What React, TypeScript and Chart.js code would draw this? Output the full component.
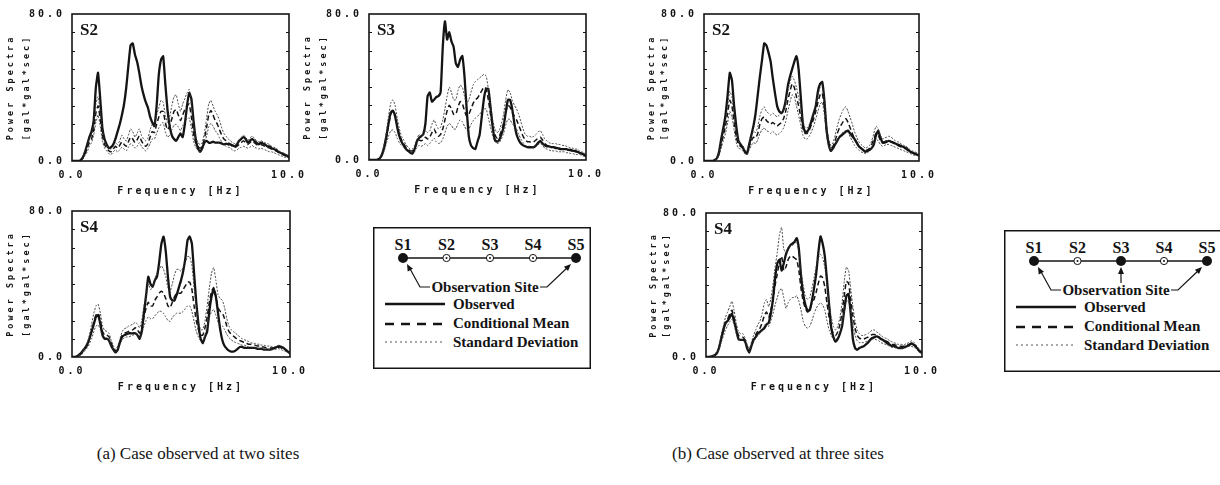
import React, { useEffect, useRef } from 'react';
import { Chart, registerables } from 'chart.js';

Chart.register(...registerables);

// Frequency grid [Hz]
const FREQ = [
  0, 0.1, 0.2, 0.3, 0.4, 0.5, 0.6, 0.7, 0.8, 0.9,
  1, 1.1, 1.2, 1.3, 1.4, 1.5, 1.6, 1.7, 1.8, 1.9,
  2, 2.1, 2.2, 2.3, 2.4, 2.5, 2.6, 2.7, 2.8, 2.9,
  3, 3.1, 3.2, 3.3, 3.4, 3.5, 3.6, 3.7, 3.8, 3.9,
  4, 4.1, 4.2, 4.3, 4.4, 4.5, 4.6, 4.7, 4.8, 4.9,
  5, 5.1, 5.2, 5.3, 5.4, 5.5, 5.6, 5.7, 5.8, 5.9,
  6, 6.1, 6.2, 6.3, 6.4, 6.5, 6.6, 6.7, 6.8, 6.9,
  7, 7.1, 7.2, 7.3, 7.4, 7.5, 7.6, 7.7, 7.8, 7.9,
  8, 8.1, 8.2, 8.3, 8.4, 8.5, 8.6, 8.7, 8.8, 8.9,
  9, 9.1, 9.2, 9.3, 9.4, 9.5, 9.6, 9.7, 9.8, 9.9, 10,
];

const X_TICKS = [0, 10];
const Y_TICKS = [0, 80];

// (a) two observed sites — S2
const A2_OBS = [
  0, 0, 0, 0, 0.5, 2, 5, 9, 13, 16,
  22, 40, 48, 34, 18, 12, 9, 7, 7.5, 9,
  12, 16, 20, 25, 31, 40, 52, 63, 64, 58,
  54, 48, 41, 36, 32, 29, 24, 21, 19, 30,
  47, 55, 57, 42, 28, 19, 14, 12, 11, 13,
  15, 13, 20, 30, 37, 34, 22, 12, 7, 5,
  7, 10, 11, 10, 10, 10.5, 10, 10, 10, 9.5,
  9, 9.5, 9, 9, 8.5, 8, 9, 11, 12, 13,
  12, 10, 11, 12, 11, 10, 9, 10, 9.5, 9,
  8, 8, 7, 6.5, 6, 5, 4.5, 4, 3.5, 3, 2,
];
const A2_MEAN = [
  0, 0, 0, 0, 0.5, 1.5, 4, 7, 10, 12,
  17, 26, 30, 23, 14, 9, 7, 5.5, 5, 6.5,
  8, 7, 8.5, 10.5, 9, 8, 10.5, 13, 12, 10,
  11.5, 13.5, 11, 9, 8, 9.5, 13, 16, 15.5, 20,
  24, 27, 27, 21, 17, 19, 23, 27, 28, 25,
  22, 25, 28, 30, 31, 24, 15, 10, 8, 7,
  8, 12, 18, 25, 27.5, 25, 22, 20, 17, 14,
  12, 11, 10, 9, 8, 7.5, 8, 9, 10, 11,
  10, 9, 10, 11, 10, 9, 8.5, 9, 8.5, 8,
  7.5, 7, 6.5, 6, 5.5, 5, 4, 3.5, 3, 2.5, 2,
];
const A2_UPPER = [
  0, 0, 0, 0, 0.7, 2, 5, 9, 12, 14,
  20, 31, 35, 27, 17, 11, 8.5, 7, 6.5, 8,
  10, 9, 11, 14, 12, 11, 14, 17.5, 16, 13,
  15, 17.5, 14, 12, 11, 12.5, 17, 20, 19.5, 25,
  29, 33, 32, 25, 21, 24, 30, 35, 36, 31,
  27, 31, 34, 37, 39, 31, 19, 13, 10, 9,
  10, 15, 23, 31, 33, 30, 27, 25, 22, 18,
  15, 13.5, 12, 11, 10, 9.5, 10, 11, 13, 14,
  13, 11, 12.5, 13.5, 12.5, 11, 10.5, 11, 10.5, 10,
  9.5, 9, 8, 7.5, 7, 6, 5, 4.5, 4, 3, 2.5,
];
const A2_LOWER = [
  0, 0, 0, 0, 0.3, 1, 3, 5, 8, 10,
  14, 21, 25, 19, 11, 7, 5.5, 4, 3.5, 5,
  6, 5, 6, 7.5, 6.5, 5.5, 7.5, 9.5, 8.5, 7,
  8, 10, 8, 6.5, 5.5, 7, 9.5, 12, 12, 15,
  18, 20, 21, 16, 13, 14, 17, 19.5, 20, 18.5,
  16.5, 19, 21.5, 23, 23.5, 18, 11, 7.5, 6, 5,
  6, 9, 13.5, 18.5, 20.5, 19, 16.5, 15, 12.5, 10.5,
  9, 8, 7.5, 7, 6, 5.5, 6, 7, 7.5, 8,
  7.5, 7, 7.5, 8.5, 7.5, 7, 6.5, 7, 6.5, 6,
  5.5, 5, 5, 4.5, 4, 3.5, 3, 2.5, 2, 2, 1.5,
];

// (a) two observed sites — S3
const A3_OBS = [
  0, 0, 0, 0, 0.3, 1, 3, 7, 13, 20,
  26, 27, 24, 18, 13, 10, 8, 6, 5, 4,
  3.5, 6, 10, 12, 13, 14, 20, 35, 37, 32,
  33, 34.5, 35, 37, 62, 76, 66, 70, 65, 62,
  53, 51, 55, 57, 46, 28, 13, 8, 6.5, 6,
  10, 14, 24, 34, 39, 39, 29, 18, 11, 10,
  11, 14, 18, 26, 33, 33, 28, 20, 14, 11,
  9, 8, 7.5, 7, 7, 7, 7, 8, 9.5, 10.5,
  9, 8, 7.5, 7.5, 7, 7, 6.5, 6.5, 6, 6,
  6, 6, 5.5, 5.5, 5, 5, 4.5, 4, 3.5, 3, 2,
];
const A3_MEAN = [
  0, 0, 0, 0, 0.3, 1, 3, 7, 12, 19,
  25, 27, 25, 19, 14, 11, 9, 7, 6, 5,
  5, 6, 9, 11, 10.5, 11, 12.5, 11.5, 12.5, 15,
  17, 14.5, 13, 14, 17, 22, 27, 30, 28, 25,
  25, 29, 32, 31, 27, 24, 25, 28, 31, 33,
  34, 36, 38, 40, 39, 33, 25, 18, 14, 12,
  13, 16, 20, 26, 30, 29, 26, 24, 22, 19,
  16, 13, 11, 10, 10, 9.5, 10, 11, 12, 12.5,
  11, 9, 8, 7.5, 7, 7, 7, 6.5, 6.5, 6,
  6, 5.5, 5.5, 5, 5, 4.5, 4.5, 4, 3.5, 3, 2.5,
];
const A3_UPPER = [
  0, 0, 0, 0, 0.4, 1.5, 4, 9, 15, 24,
  31, 33, 30, 23, 17, 13, 11, 8.5, 7, 6,
  6, 7.5, 11, 14, 13, 14, 16, 15, 16, 19.5,
  22, 19, 17, 18, 22, 28, 35, 40, 37, 33,
  33, 38, 41, 40, 35, 31, 33, 37, 41, 43,
  44, 45, 46, 47, 46, 39, 30, 22, 17, 15,
  16, 20, 25, 33, 38.5, 37, 33, 30, 28, 25,
  21, 17, 14, 13, 13, 12.5, 13, 14, 15.5, 16,
  14, 11.5, 10.5, 9.5, 9, 9, 9, 8.5, 8.5, 8,
  8, 7.5, 7, 6.5, 6.5, 6, 6, 5, 4.5, 4, 3,
];
const A3_LOWER = [
  0, 0, 0, 0, 0.2, 0.8, 2, 5, 9, 13,
  16, 16.5, 15, 12, 9.5, 8, 7, 5.5, 4.5, 4,
  4, 4.5, 6.5, 8, 7.5, 8, 9, 8, 9, 10.5,
  12, 10, 9, 9.5, 11.5, 15, 18.5, 20, 19, 17,
  17, 20, 22, 21, 18.5, 16.5, 17, 19.5, 21.5, 23,
  24, 25, 27, 28, 28, 23, 18, 13, 10, 9,
  9.5, 11.5, 14.5, 19, 22.5, 22, 20, 18.5, 17, 14,
  11.5, 9.5, 8, 7.5, 7.5, 7, 7.5, 8, 8.5, 9,
  8, 6.5, 6, 5.5, 5, 5, 5, 4.5, 4.5, 4.5,
  4.5, 4, 4, 3.5, 3.5, 3, 3, 3, 2.5, 2, 1.5,
];

// (a) two observed sites — S4
const A4_OBS = [
  0, 0, 0.3, 1, 2, 3.5, 5, 7, 10, 14,
  18, 22, 23, 18, 12, 10, 10, 9, 6, 4,
  2.5, 4, 8, 11, 12, 12.5, 13, 13, 13, 13,
  12, 10, 14, 24, 34, 44, 40, 38.5, 42, 44,
  52, 62, 66, 58, 44, 33, 31, 31, 34, 38,
  42, 47, 54, 64, 66, 62, 46, 30, 18, 10,
  7.5, 11, 14, 25, 33, 37, 33, 24, 15, 9,
  6, 4.5, 3.5, 3, 3, 3.5, 4.5, 5.5, 5.5, 5,
  5, 5, 5, 5, 5, 4.5, 4.5, 4.5, 4, 4,
  4, 4, 4.5, 5, 5.5, 6, 5.5, 5, 4, 3, 2,
];
const A4_MEAN = [
  0, 0, 0.2, 0.8, 1.5, 3, 4.5, 6.5, 10, 14,
  19, 23, 24, 20, 14, 12, 12, 11, 7.5, 5,
  3, 5, 8.5, 12, 13, 13.5, 14, 14.5, 15, 16,
  15, 13, 16, 22, 27, 30, 28, 28, 31, 33,
  35, 36, 35, 32, 28, 27, 30, 33, 35, 35,
  35, 37, 39, 41, 41, 37, 28, 20, 15, 12,
  12, 16, 22, 30, 36, 38, 33, 27, 25, 24,
  21, 17, 14, 12.5, 11.5, 10.5, 9.5, 9, 8.5, 8,
  7.5, 7, 7, 6.5, 6.5, 6, 6, 5.5, 5.5, 5,
  5, 5, 5, 5, 5, 5.5, 5, 4.5, 4, 3, 2,
];
const A4_UPPER = [
  0, 0, 0.3, 1, 2, 3.5, 5.5, 8, 12, 18,
  24, 28, 29, 24, 17, 14.5, 14, 13, 9, 6,
  4, 6, 10, 14, 15.5, 16, 17, 17.5, 18, 19,
  18, 16, 20, 28, 34, 40, 37, 38, 43, 46,
  48, 50, 48, 44, 38, 36, 40, 45, 48, 48,
  47, 49, 52, 55, 55, 50, 38, 27, 19, 15,
  15, 20, 28, 38, 46, 49, 42, 34, 32, 31,
  27, 21, 17, 15, 14, 13, 12, 11, 10, 9.5,
  9, 8.5, 8, 7.5, 7.5, 7, 7, 6.5, 6.5, 6,
  6, 6, 5.5, 5.5, 6, 6.5, 6, 5.5, 4.5, 3.5, 2.5,
];
const A4_LOWER = [
  0, 0, 0.1, 0.5, 1, 2, 3.5, 5, 7.5, 10,
  14, 17, 17.5, 15, 11, 9.5, 9.5, 9, 6, 4,
  2.5, 4, 7, 9.5, 10.5, 11, 11, 11.5, 12, 12.5,
  12, 10, 12.5, 17, 20, 22, 21, 21, 22.5, 24,
  25, 25, 24, 22, 20, 19.5, 21.5, 23, 24, 24,
  24, 25, 26.5, 28, 28, 25, 19.5, 14, 11, 9,
  9, 12, 16.5, 21.5, 25, 26, 23, 19, 18, 17,
  15, 12.5, 10.5, 9.5, 8.5, 8, 7.5, 7, 6.5, 6.5,
  6, 5.5, 5.5, 5, 5, 5, 4.5, 4.5, 4.5, 4,
  4, 4, 4, 4, 4.5, 4.5, 4, 3.5, 3, 2.5, 1.5,
];

// (b) three observed sites — S2
const B2_OBS = [
  0, 0, 0, 0, 0, 0.5, 1.5, 5, 12, 18,
  25, 36, 48, 44, 30, 19, 11, 9, 7.5, 5,
  4, 9, 14, 19, 26, 36, 46, 55, 64, 63,
  59, 54, 45, 37, 30, 27, 26, 28, 33, 41,
  46, 50, 54, 57, 50, 35, 20, 16, 16, 18,
  22, 26, 30, 38, 42, 43, 33, 17, 9, 5.5,
  7, 9, 11, 13, 14, 15, 16, 16.5, 15, 13.5,
  12, 10, 8, 7, 6, 5, 5.5, 6, 7, 9,
  14, 16.5, 13, 10, 10, 10.5, 11, 10.5, 10, 9.5,
  9, 8.5, 8, 7.5, 7, 6, 5, 4.5, 4, 3.5, 3,
];
const B2_MEAN = [
  0, 0, 0, 0, 0, 0.4, 1.2, 4, 9, 14,
  19, 26, 33, 30, 21, 13, 9, 8, 7, 5,
  4.5, 8, 11, 13, 12.5, 15, 20, 23, 24, 22,
  21, 20, 21, 20, 19, 20, 21, 23, 27, 33,
  38, 42, 40, 35, 30, 24, 18, 15, 15, 17,
  20, 23, 27, 32, 36, 37, 29, 17, 10, 7,
  8, 11, 15, 18, 20, 22, 23, 21, 18, 15,
  12, 10, 8, 7, 6, 5.5, 6, 7, 9, 12,
  15, 14, 11.5, 10, 10.5, 11, 11, 10.5, 10, 9,
  8.5, 8, 7.5, 7, 6.5, 5.5, 5, 4.5, 4, 3.5, 3,
];
const B2_UPPER = [
  0, 0, 0, 0, 0, 0.5, 1.5, 5, 10, 16,
  22, 30, 38, 35, 25, 16, 11, 9.5, 8.5, 6,
  5.5, 10, 13.5, 16, 15.5, 18.5, 24.5, 28, 29.5, 27,
  26, 25, 26, 25, 24, 25, 26, 28, 32, 38,
  43, 46, 44, 40, 35, 29, 22, 18, 18, 20,
  23, 27, 31, 36, 40, 41, 33, 20, 12, 8.5,
  10, 14, 19, 23, 26, 28.5, 29.5, 27, 23.5, 20,
  16, 13, 10.5, 9, 8, 7, 7.5, 8.5, 11, 15,
  19, 17.5, 14, 12, 12.5, 13, 13.5, 13, 12, 11,
  10.5, 10, 9, 8.5, 8, 7, 6, 5.5, 5, 4.5, 3.5,
];
const B2_LOWER = [
  0, 0, 0, 0, 0, 0.3, 0.9, 3, 7, 11,
  15, 21, 27, 24, 17, 10, 7, 6.5, 5.5, 4,
  3.5, 6, 8.5, 10, 9.5, 11.5, 15, 17, 18, 16.5,
  16, 15, 16, 15, 14, 15, 16, 18, 21.5, 27,
  32, 36, 35, 30, 25, 19.5, 14, 12, 12, 13.5,
  16, 19, 23, 27, 31, 32, 25, 14, 8, 5.5,
  6, 8.5, 11.5, 13.5, 15, 16, 16.5, 15.5, 13, 11,
  8.5, 7, 6, 5, 4.5, 4, 4.5, 5.5, 7, 9.5,
  12, 11, 9, 8, 8.5, 9, 9, 8.5, 8, 7.5,
  7, 6.5, 6, 5.5, 5, 4.5, 4, 3.5, 3, 3, 2.5,
];

// (b) three observed sites — S4
const B4_OBS = [
  0, 0, 0.2, 0.5, 1, 2, 5, 10, 15, 19,
  20, 22, 24, 20, 15, 10, 9.5, 9.5, 9, 5,
  2.5, 6, 9.5, 11, 13, 14, 15, 16, 18, 19,
  24, 32, 44, 52, 54, 48, 52, 57, 60, 62,
  63, 64, 66, 60, 45, 35, 29, 26, 26, 31,
  38, 46, 58, 67, 63, 56, 43, 29, 16, 11,
  8.5, 10, 13, 17, 26, 34, 35, 24, 10, 5,
  4, 5, 5.5, 6, 7, 8, 9.5, 10.5, 11, 11.5,
  11, 10, 9.5, 8.5, 7.5, 7, 6, 6, 5.5, 5,
  5, 5, 5.5, 6, 6.5, 7.5, 7, 6, 4.5, 3, 2.5,
];
const B4_MEAN = [
  0, 0, 0.1, 0.4, 1, 2.5, 5, 10, 14, 18,
  21, 24, 26, 22, 16, 12, 11, 11, 9.5, 6,
  3.5, 7, 10, 12.5, 14.5, 16, 19, 23, 25, 22,
  26, 32, 40, 46, 53, 56, 48, 50, 54, 56,
  56, 55, 54, 48, 38, 31, 27, 25, 26, 30,
  32, 36, 41, 45, 44, 39, 30, 22, 16, 13,
  12, 14, 18, 25, 34, 42, 41, 32, 23, 16,
  12, 10.5, 10, 10, 10.5, 11, 12, 12.5, 12.5, 12,
  11, 10, 9.5, 9, 8.5, 7.5, 7, 7, 6.5, 6,
  6, 6, 6, 6.5, 7, 7.5, 7, 6, 4.5, 3.5, 2.5,
];
const B4_UPPER = [
  0, 0, 0.2, 0.5, 1.2, 3, 6, 12, 17, 22,
  25, 28, 31, 26, 19, 14, 13, 13, 11, 7,
  4, 8, 12, 15, 18, 20, 24, 30, 32, 28,
  32, 40, 50, 58, 68, 72, 60, 58, 61, 62,
  62, 63, 64, 58, 48, 40, 34, 32, 33, 38,
  44, 50, 55, 57, 55, 50, 40, 30, 22, 17,
  15, 17, 22, 30, 42, 50, 48, 38, 28, 20,
  15, 13, 12, 12, 12.5, 13, 14, 15, 15, 14,
  13, 12, 11, 10.5, 10, 9, 8.5, 8, 7.5, 7,
  7, 7, 7, 7.5, 8, 9, 8.5, 7, 5.5, 4, 3,
];
const B4_LOWER = [
  0, 0, 0.1, 0.3, 0.8, 2, 4, 8, 11.5, 15,
  17.5, 19.5, 21, 18, 13, 10, 9.5, 9.5, 8, 5,
  3, 6, 8.5, 10.5, 12, 13, 15, 17.5, 19, 17,
  20, 24, 29, 33, 37, 38, 33, 27, 30, 32,
  33, 33, 34, 31, 26, 20, 17, 16, 17, 20,
  24, 27, 29, 30, 29, 26, 20, 15, 12, 10,
  9.5, 11, 14, 19, 25, 31, 31, 25, 18, 12,
  9, 8, 8, 8, 8.5, 9, 9.5, 10, 10, 9.5,
  9, 8, 7.5, 7, 6.5, 6, 5.5, 5.5, 5, 5,
  5, 5, 5, 5.5, 6, 6, 5.5, 5, 3.5, 2.5, 2,
];

const SERIES_NAMES = ['Observed', 'Conditional Mean', 'Standard Deviation', 'Standard Deviation'];
const LEGEND_ROWS = ['Observed', 'Conditional Mean', 'Standard Deviation'];
const SITE_NAMES = ['S1', 'S2', 'S3', 'S4', 'S5'];

const INK = '#141414';
const TICK_FONT = { family: '"DejaVu Sans Mono", monospace', size: 10, weight: 'bold' as const };

type PanelDef = {
  label: string;
  obs: number[];
  mean: number[];
  upper: number[];
  lower: number[];
  left: number;
  top: number;
  w: number;
  h: number;
  yTitlePad: number;
  yTitleLine: number;
};

const PANELS: PanelDef[] = [
  { label: 'S2', obs: A2_OBS, mean: A2_MEAN, upper: A2_UPPER, lower: A2_LOWER, left: 72, top: 14, w: 217, h: 147, yTitlePad: 3, yTitleLine: 16 },
  { label: 'S3', obs: A3_OBS, mean: A3_MEAN, upper: A3_UPPER, lower: A3_LOWER, left: 369, top: 14, w: 217, h: 146, yTitlePad: 3, yTitleLine: 16 },
  { label: 'S4', obs: A4_OBS, mean: A4_MEAN, upper: A4_UPPER, lower: A4_LOWER, left: 72, top: 211, w: 218, h: 146, yTitlePad: 3, yTitleLine: 16 },
  { label: 'S2', obs: B2_OBS, mean: B2_MEAN, upper: B2_UPPER, lower: B2_LOWER, left: 704, top: 14, w: 215, h: 147, yTitlePad: 13, yTitleLine: 13 },
  { label: 'S4', obs: B4_OBS, mean: B4_MEAN, upper: B4_UPPER, lower: B4_LOWER, left: 706, top: 213, w: 216, h: 144, yTitlePad: 13, yTitleLine: 13 },
];

const AXIS_L = 72;
const PAD_T = 14;
const PAD_R = 26;
const AXIS_B = 42;

const framePlugin = {
  id: 'frame',
  beforeDraw(chart: any) {
    (chart.ctx as any).letterSpacing = '3px';
  },
  afterDraw(chart: any, _args: any, opts: any) {
    const { ctx, chartArea: a, scales } = chart;
    const y = scales.y;
    ctx.save();
    (ctx as any).letterSpacing = '0px';
    ctx.strokeStyle = INK;
    ctx.lineWidth = 1.6;
    ctx.strokeRect(a.left, a.top, a.right - a.left, a.bottom - a.top);
    ctx.lineWidth = 1;
    for (let v = 10; v < 80; v += 10) {
      const py = Math.round(y.getPixelForValue(v)) + 0.5;
      ctx.beginPath();
      ctx.moveTo(a.left, py);
      ctx.lineTo(a.left + 3, py);
      ctx.moveTo(a.right, py);
      ctx.lineTo(a.right - 3, py);
      ctx.stroke();
    }
    ctx.font = 'bold 17px "Liberation Serif", serif';
    ctx.fillStyle = INK;
    ctx.textAlign = 'left';
    ctx.textBaseline = 'alphabetic';
    ctx.fillText(opts.label, a.left + 8, a.top + 21);
    ctx.restore();
  },
};

function Panel({ def }: { def: PanelDef }) {
  const ref = useRef<HTMLCanvasElement | null>(null);
  const cw = def.w + AXIS_L + PAD_R;
  const ch = def.h + PAD_T + AXIS_B;

  useEffect(() => {
    if (!ref.current) return;
    const mk = (arr: number[]) => FREQ.map((f, i) => ({ x: f, y: arr[i] }));
    const chart = new Chart(ref.current, {
      type: 'line',
      data: {
        datasets: [
          { label: SERIES_NAMES[2], data: mk(def.upper), borderColor: '#333', borderWidth: 0.9, borderDash: [2, 1.5], pointRadius: 0, tension: 0.15, fill: false },
          { label: SERIES_NAMES[3], data: mk(def.lower), borderColor: '#333', borderWidth: 0.9, borderDash: [2, 1.5], pointRadius: 0, tension: 0.15, fill: false },
          { label: SERIES_NAMES[1], data: mk(def.mean), borderColor: INK, borderWidth: 1.5, borderDash: [5, 3], pointRadius: 0, tension: 0.15, fill: false },
          { label: SERIES_NAMES[0], data: mk(def.obs), borderColor: INK, borderWidth: 2.3, pointRadius: 0, tension: 0.15, fill: false },
        ],
      },
      options: {
        responsive: false,
        animation: false,
        events: [],
        layout: { padding: { top: PAD_T, right: PAD_R, left: 0, bottom: 0 } },
        plugins: {
          legend: { display: false },
          tooltip: { enabled: false },
          frame: { label: def.label },
        } as any,
        scales: {
          x: {
            type: 'linear',
            min: X_TICKS[0],
            max: X_TICKS[1],
            grid: { display: false, drawTicks: false },
            border: { display: false },
            afterBuildTicks: (s: any) => { s.ticks = X_TICKS.map((v) => ({ value: v })); },
            ticks: { font: TICK_FONT, color: INK, padding: 8, maxRotation: 0, autoSkip: false, callback: (v: any) => Number(v).toFixed(1) },
            title: {
              display: true,
              text: 'Frequency [Hz]',
              color: INK,
              font: { family: '"DejaVu Sans Mono", monospace', size: 10, weight: 'bold', lineHeight: '12px' } as any,
              padding: { top: 0, bottom: 6 },
            },
            afterFit: (s: any) => { s.height = AXIS_B; },
          },
          y: {
            type: 'linear',
            min: Y_TICKS[0],
            max: Y_TICKS[1],
            grid: { display: false, drawTicks: false },
            border: { display: false },
            afterBuildTicks: (s: any) => { s.ticks = Y_TICKS.map((v) => ({ value: v })); },
            ticks: { font: TICK_FONT, color: INK, padding: 7, autoSkip: false, callback: (v: any) => Number(v).toFixed(1) },
            title: {
              display: true,
              text: ['Power Spectra', '[gal*gal*sec]'],
              color: INK,
              font: { family: '"DejaVu Sans Mono", monospace', size: 8.5, weight: 'bold', lineHeight: def.yTitleLine + 'px' } as any,
              padding: { top: def.yTitlePad, bottom: 0 },
            },
            afterFit: (s: any) => { s.width = AXIS_L; },
          },
        },
      },
      plugins: [framePlugin as any],
    });
    return () => chart.destroy();
  }, [def]);

  return (
    <canvas
      ref={ref}
      width={cw}
      height={ch}
      style={{ position: 'absolute', left: def.left - AXIS_L, top: def.top - PAD_T, width: cw, height: ch }}
    />
  );
}

const SITE_X = [30, 73.5, 117, 160, 203];

function Arrowhead({ x, y, angle }: { x: number; y: number; angle: number }) {
  const len = 7;
  const half = 3;
  const c = Math.cos(angle);
  const s = Math.sin(angle);
  const bx = x - c * len;
  const by = y - s * len;
  const p1 = `${x},${y}`;
  const p2 = `${bx - s * half},${by + c * half}`;
  const p3 = `${bx + s * half},${by - c * half}`;
  return <polygon points={`${p1} ${p2} ${p3}`} fill={INK} />;
}

function SiteLegend({ left, top, observed }: { left: number; top: number; observed: number[] }) {
  const serif = '"Liberation Serif", "Times New Roman", serif';
  const lineY = 31;
  const angL = Math.atan2(38 - 60, 35 - 47);
  const angR = Math.atan2(38 - 60, 197 - 174);
  return (
    <svg
      width={218}
      height={143}
      style={{ position: 'absolute', left, top, overflow: 'visible' }}
    >
      <rect x={0.75} y={0.75} width={216.5} height={140.5} fill="white" stroke={INK} strokeWidth={1.5} />
      <line x1={SITE_X[0]} y1={lineY} x2={SITE_X[4]} y2={lineY} stroke={INK} strokeWidth={1.5} />
      {SITE_NAMES.map((name, i) => (
        <g key={name}>
          <text x={SITE_X[i]} y={23} textAnchor="middle" fontFamily={serif} fontWeight="bold" fontSize={16} fill={INK}>
            {name}
          </text>
          {observed.includes(i) ? (
            <circle cx={SITE_X[i]} cy={lineY} r={5} fill={INK} />
          ) : (
            <g>
              <circle cx={SITE_X[i]} cy={lineY} r={3.6} fill="white" stroke={INK} strokeWidth={1} />
              <circle cx={SITE_X[i]} cy={lineY} r={1} fill={INK} />
            </g>
          )}
        </g>
      ))}
      <polyline points="57,60 47,60 36,40" fill="none" stroke={INK} strokeWidth={1.2} />
      <Arrowhead x={34} y={37} angle={angL} />
      <polyline points="167,60 174,60 195,40" fill="none" stroke={INK} strokeWidth={1.2} />
      <Arrowhead x={198} y={37} angle={angR} />
      {observed.includes(2) && (
        <g>
          <line x1={SITE_X[2]} y1={53} x2={SITE_X[2]} y2={42} stroke={INK} strokeWidth={1.2} />
          <Arrowhead x={SITE_X[2]} y={37} angle={-Math.PI / 2} />
        </g>
      )}
      <text x={112} y={65} textAnchor="middle" fontFamily={serif} fontWeight="bold" fontSize={15} fill={INK}>
        Observation Site
      </text>
      <line x1={12} y1={77} x2={72} y2={77} stroke={INK} strokeWidth={2.5} />
      <line x1={12} y1={97} x2={72} y2={97} stroke={INK} strokeWidth={2.5} strokeDasharray="9 7" />
      <line x1={12} y1={115} x2={72} y2={115} stroke="#555" strokeWidth={1} strokeDasharray="2 3" />
      {LEGEND_ROWS.map((t, i) => (
        <text key={t} x={80} y={82 + i * 19} fontFamily={serif} fontWeight="bold" fontSize={15} fill={INK}>
          {t}
        </text>
      ))}
    </svg>
  );
}

const CAPTIONS = ['(a) Case observed at two sites', '(b) Case observed at three sites'];

export default function App() {
  return (
    <div style={{ position: 'absolute', left: 0, top: 0, width: 1220, height: 485, background: 'white', overflow: 'hidden' }}>
      {PANELS.map((p, i) => (
        <Panel key={i} def={p} />
      ))}
      <SiteLegend left={373} top={227} observed={[0, 4]} />
      <SiteLegend left={1004} top={230} observed={[0, 2, 4]} />
      {CAPTIONS.map((c, i) => (
        <div
          key={c}
          style={{
            position: 'absolute',
            left: (i === 0 ? 198 : 778) - 200,
            top: 444,
            width: 400,
            textAlign: 'center',
            fontFamily: '"Liberation Serif", serif',
            fontSize: 17,
            lineHeight: '20px',
            color: INK,
          }}
        >
          {c}
        </div>
      ))}
    </div>
  );
}
